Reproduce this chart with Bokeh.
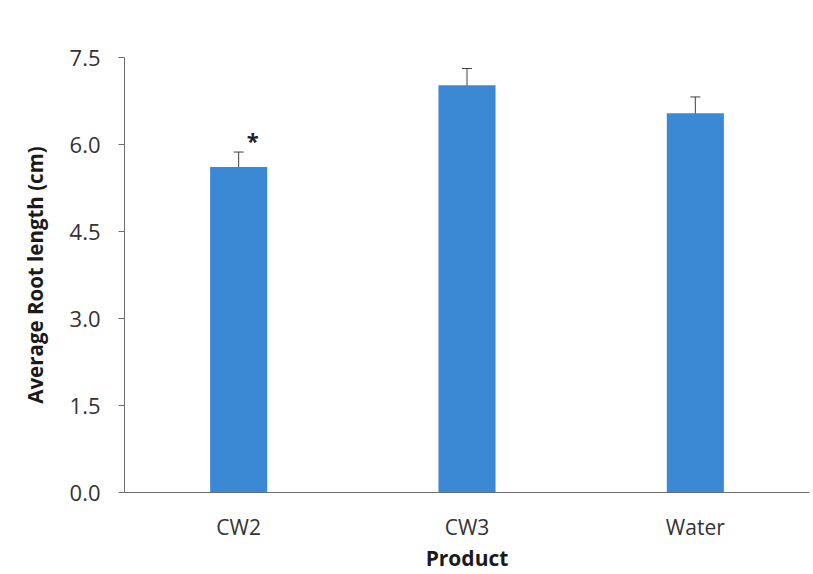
from bokeh.plotting import figure
from bokeh.models import ColumnDataSource, Whisker, TeeHead, FactorRange, FixedTicker, Range1d, CustomJSTickFormatter
from bokeh.embed import file_html
from bokeh.resources import INLINE
from bokeh.core.properties import value

products = ["CW2", "CW3", "Water"]
means = [5.61, 7.02, 6.54]
errors = [0.26, 0.29, 0.28]
marks = ["*", "", ""]
y_ticks = [0.0, 1.5, 3.0, 4.5, 6.0, 7.5]

lower = [m - e for m, e in zip(means, errors)]
upper = [m + e for m, e in zip(means, errors)]
src = ColumnDataSource(dict(x=products, top=means, lower=lower, upper=upper, mark=marks))

FONT = "Open Sans"
p = figure(x_range=FactorRange(*products, range_padding=0), y_range=Range1d(0, 7.5),
           width=813, height=574, output_backend="svg", toolbar_location=None,
           min_border_left=124, min_border_top=57, min_border_bottom=80, min_border_right=4)
p.outline_line_color = None
p.grid.visible = False

p.vbar(x="x", top="top", width=0.25, source=src, fill_color="#3B88D4", line_color=None)
w = Whisker(source=src, base="x", lower="lower", upper="upper", line_color="#404040", line_width=1,
            upper_head=TeeHead(size=10, line_color="#404040", line_width=1),
            lower_head=TeeHead(size=10, line_color="#404040", line_width=1))
p.add_layout(w)
p.text(x="x", y="upper", text="mark", source=src, x_offset=14, y_offset=-12,
       text_align="center", text_baseline="alphabetic", text_font=value(FONT),
       text_font_size="22px", text_font_style="bold", text_color="#202020")

p.yaxis.ticker = FixedTicker(ticks=y_ticks)
p.yaxis.formatter = CustomJSTickFormatter(code="return tick.toFixed(1);")
for ax in (p.xaxis, p.yaxis):
    ax.axis_line_color = "#6e6e6e"
    ax.axis_line_width = 1
    ax.major_label_text_font = FONT
    ax.major_label_text_color = "#333333"
    ax.axis_label_text_font = FONT
    ax.axis_label_text_font_style = "bold"
    ax.axis_label_text_color = "#1a1a1a"
    ax.minor_tick_line_color = None
p.yaxis.major_label_text_font_size = "22px"
p.xaxis.major_label_text_font_size = "21px"
p.yaxis.major_tick_line_color = "#6e6e6e"
p.yaxis.major_tick_out = 6
p.yaxis.major_tick_in = 0
p.yaxis.major_label_standoff = 18
p.yaxis.axis_label = "Average Root length (cm)"
p.yaxis.axis_label_text_font_size = "20.5px"
p.yaxis.axis_label_standoff = 18
p.xaxis.major_tick_line_color = None
p.xaxis.major_tick_out = 0
p.xaxis.major_label_standoff = 20
p.xaxis.axis_label = "Product"
p.xaxis.axis_label_text_font_size = "21px"
p.xaxis.axis_label_standoff = 0

open("out.html", "w").write(file_html(p, INLINE))
